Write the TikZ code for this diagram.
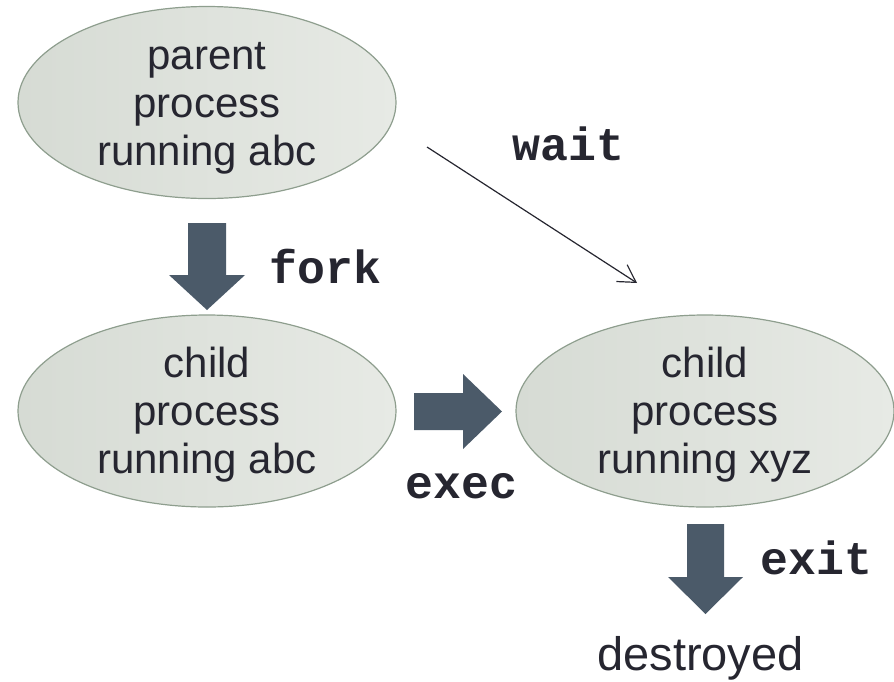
\documentclass[tikz,border=0pt]{standalone}
\usepackage{fontspec}
\setmainfont{Liberation Sans}
\setmonofont{Liberation Mono}
\usetikzlibrary{arrows.meta,shapes.geometric}

\definecolor{inkdark}{HTML}{262630}
\definecolor{procfillL}{HTML}{D6DBD4}
\definecolor{procfillR}{HTML}{E7EAE5}
\definecolor{procedge}{HTML}{8E9E8E}
\definecolor{blockarrow}{HTML}{4B5A69}

% strut giving every text line the same height/depth
\newcommand\procline{\rule[-4pt]{0pt}{42pt}}

\tikzset{
  proc/.style={ellipse, draw=procedge, line width=1.2pt,
    left color=procfillL, right color=procfillR,
    minimum width=378pt, minimum height=192pt, inner sep=0pt},
  proctext/.style={align=center, text=inkdark, inner sep=0pt,
    font=\fontsize{42pt}{48pt}\selectfont},
  syscall/.style={anchor=base, text=inkdark, inner sep=0pt,
    font=\fontsize{46.5pt}{50pt}\selectfont\ttfamily\bfseries},
  plain/.style={anchor=base, text=inkdark, inner sep=0pt,
    font=\fontsize{47pt}{52pt}\selectfont},
  bigarrow/.style={fill=blockarrow, draw=none},
  waitline/.style={draw=inkdark, line width=1.2pt,
    -{Straight Barb[length=17pt,width=20pt,line width=1.2pt]}}
}

\begin{document}
\begin{tikzpicture}[x=1pt, y=-1pt]
  \useasboundingbox (0,0) rectangle (894,681);

  % processes
  \node[proc] (parent) at (207,102.5) {};
  \node[proctext] (parenttext) at (parent.center)
    {\procline parent\\\procline process\\\procline running abc};

  \node[proc] (child) at (207,411) {};
  \node[proctext] (childtext) at (child.center)
    {\procline child\\\procline process\\\procline running abc};

  \node[proc] (newchild) at (705,411) {};
  \node[proctext] (newchildtext) at (newchild.center)
    {\procline child\\\procline process\\\procline running xyz};

  \node[plain] (destroyed) at (700.5,670) {destroyed};

  % block arrows
  \fill[bigarrow] (188,223) -- (226,223) -- (226,275) -- (245,275)
    -- (207,310) -- (169,275) -- (188,275) -- cycle;
  \fill[bigarrow] (414,393) -- (463,393) -- (463,374) -- (502,411.5)
    -- (463,449) -- (463,430) -- (414,430) -- cycle;
  \fill[bigarrow] (687,524) -- (724,524) -- (724,577) -- (743,577)
    -- (705.5,614) -- (668,577) -- (687,577) -- cycle;

  % system call labels
  \node[syscall] (fork) at (325.5,283) {fork};
  \node[syscall] (exec) at (461.5,498) {exec};
  \node[syscall] (exit) at (816.5,574) {exit};
  \node[syscall] (wait) at (568.5,160) {wait};

  % wait connector
  \coordinate (waitfrom) at (427,147);
  \coordinate (waitto) at (637,283);
  \draw[waitline] (waitfrom) -- (waitto);
\end{tikzpicture}
\end{document}
